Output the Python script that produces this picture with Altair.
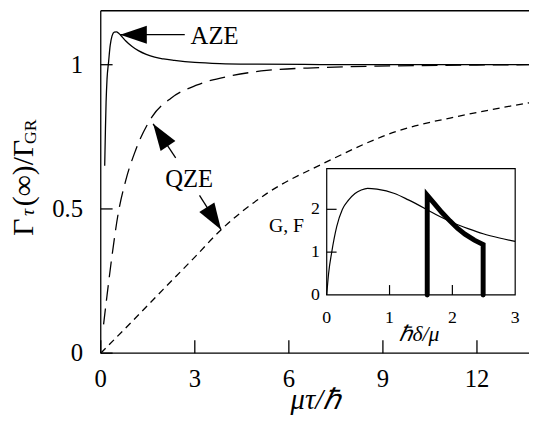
import altair as alt
import pandas as pd

# ---------------- data ----------------
# main panel: Gamma_tau(inf)/Gamma_GR versus mu*tau/hbar
aze_x = [0.126, 0.15, 0.17, 0.2, 0.25, 0.3, 0.36, 0.43, 0.5, 0.58, 0.67, 0.8, 1.0, 1.2,
         1.45, 1.72, 2.0, 2.35, 3.0, 3.8, 5.0, 6.5, 8.0, 10.0, 12.0, 13.66]
aze_y = [0.65, 0.78, 0.87, 0.95, 1.01, 1.066, 1.10, 1.113, 1.114, 1.108, 1.098, 1.082, 1.063,
         1.049, 1.036, 1.026, 1.02, 1.015, 1.008, 1.004, 1.002, 1.001, 1.0, 1.0, 1.0, 1.0]

long_x = [0.09, 0.2, 0.35, 0.55, 0.8, 1.1, 1.64, 2.24, 3.08, 4.13, 5.29, 7.0, 9.47, 12.0, 13.66]
long_y = [0.10, 0.2, 0.33, 0.48, 0.6, 0.7, 0.82, 0.884, 0.93, 0.961, 0.98, 0.99, 0.996, 0.999, 1.0]

short_x = [0.0, 1.0, 2.0, 3.0, 3.84, 5.29, 7.07, 9.47, 11.58, 13.66]
short_y = [0.0, 0.11, 0.222, 0.333, 0.428, 0.553, 0.656, 0.77, 0.825, 0.868]

main_xticks = [0, 3, 6, 9, 12]
main_yticks = [0, 0.5, 1]

# annotations (main coordinates)
arrow_tail_x = [2.68, 2.39, 3.15]
arrow_tail_y = [1.104, 0.677, 0.547]
arrow_tip_x = [0.62, 1.67, 3.84]
arrow_tip_y = [1.104, 0.795, 0.428]
arrow_angle = [270, 326, 147.5]

label_text = ["AZE", "QZE"]
label_x = [3.63, 2.82]
label_y = [1.071, 0.575]

# inset: G and F versus hbar*delta/mu
g_x = [0, 0.03, 0.08, 0.16, 0.25, 0.35, 0.45, 0.55, 0.65, 0.8, 1.08, 1.3, 1.6, 1.8,
       2.02, 2.25, 2.49, 2.75, 3.0]
g_y = [0, 0.5, 1.0, 1.6, 2.0, 2.22, 2.37, 2.45, 2.49, 2.47, 2.37, 2.22, 1.99, 1.83,
       1.68, 1.55, 1.43, 1.33, 1.25]

f_x = [1.6, 1.6, 1.71, 1.83, 1.96, 2.08, 2.2, 2.35, 2.49, 2.49]
f_y = [0, 2.33, 2.14, 1.93, 1.73, 1.56, 1.42, 1.28, 1.18, 0]

inset_xticks = [0, 1, 2, 3]
inset_yticks = [0, 1, 2]
inset_inner_xticks = [1, 2]
inset_inner_yticks = [1, 2]

# ---------------- layout ----------------
W, H = 434, 347
FONT = "Liberation Serif"
LW = 1.3

XS = alt.Scale(domain=[0, 13.66], nice=False, zero=False)
YS = alt.Scale(domain=[0, 1.187], nice=False, zero=False)


def one():
    return pd.DataFrame({"k": [0]})


def X(f):
    return alt.X(f, scale=XS, axis=None)


def Y(f):
    return alt.Y(f, scale=YS, axis=None)


aze_df = pd.DataFrame({"x": aze_x, "y": aze_y})
long_df = pd.DataFrame({"x": long_x, "y": long_y})
short_df = pd.DataFrame({"x": short_x, "y": short_y})

aze_line = alt.Chart(aze_df).mark_line(color="black", strokeWidth=LW,
                                       interpolate="monotone").encode(x=X("x:Q"), y=Y("y:Q"))
long_line = alt.Chart(long_df).mark_line(color="black", strokeWidth=LW, strokeDash=[16, 8],
                                         interpolate="monotone").encode(x=X("x:Q"), y=Y("y:Q"))
short_line = alt.Chart(short_df).mark_line(color="black", strokeWidth=LW, strokeDash=[7, 5],
                                           interpolate="monotone").encode(x=X("x:Q"), y=Y("y:Q"))

xtick_df = pd.DataFrame({"v": main_xticks})
ytick_df = pd.DataFrame({"v": main_yticks})
xt = alt.Chart(xtick_df).mark_rule(color="black", strokeWidth=LW).encode(
    x=X("v:Q"), y=alt.value(H), y2=alt.value(H - 13))
yt = alt.Chart(ytick_df).mark_rule(color="black", strokeWidth=LW).encode(
    y=Y("v:Q"), x=alt.value(0), x2=alt.value(12))
xlab = alt.Chart(xtick_df).mark_text(font=FONT, fontSize=25, color="black", align="center",
                                     baseline="top").encode(
    x=X("v:Q"), y=alt.value(H + 14), text=alt.Text("v:Q", format="~g"))
ylab = alt.Chart(ytick_df).mark_text(font=FONT, fontSize=25, color="black", align="right",
                                     baseline="middle").encode(
    y=Y("v:Q"), x=alt.value(-18), text=alt.Text("v:Q", format="~g"))

top_border = alt.Chart(one()).mark_rule(color="black", strokeWidth=LW).encode(
    x=alt.value(0), x2=alt.value(W), y=alt.value(0))
bottom_border = alt.Chart(one()).mark_rule(color="black", strokeWidth=LW).encode(
    x=alt.value(0), x2=alt.value(W), y=alt.value(H))
left_border = alt.Chart(one()).mark_rule(color="black", strokeWidth=LW).encode(
    x=alt.value(0), y=alt.value(0), y2=alt.value(H))

arrow_df = pd.DataFrame({"x0": arrow_tail_x, "y0": arrow_tail_y,
                         "x1": arrow_tip_x, "y1": arrow_tip_y, "ang": arrow_angle})
arrow_lines = alt.Chart(arrow_df).mark_rule(color="black", strokeWidth=LW).encode(
    x=X("x0:Q"), y=Y("y0:Q"), x2="x1:Q", y2="y1:Q")
arrow_heads = alt.Chart(arrow_df).mark_point(
    shape="M0,0L0.67,2L-0.67,2Z", size=729, filled=True, color="black",
    opacity=1, strokeWidth=0).encode(
    x=X("x1:Q"), y=Y("y1:Q"), angle=alt.Angle("ang:Q", scale=None))

labels_df = pd.DataFrame({"t": label_text, "x": label_x, "y": label_y})
labels = alt.Chart(labels_df).mark_text(font=FONT, fontSize=25, color="black",
                                        align="center", baseline="alphabetic").encode(
    x=X("x:Q"), y=Y("y:Q"), text="t:N")


def txt(s, x, y, size, style="normal", align="left", angle=0):
    return alt.Chart(one()).mark_text(text=s, font=FONT, fontSize=size, fontStyle=style,
                                      color="black", align=align, baseline="alphabetic",
                                      angle=angle).encode(x=alt.value(x), y=alt.value(y))


x_title = txt("μτ/ℏ", 218, 404, 29, style="italic", align="center")
y_t1 = txt("Γ", -68.7, 228, 30, angle=270)
y_t2 = txt("τ", -67.5, 208, 20, style="italic", angle=270)
y_t3 = txt("(∞)/Γ", -68.7, 198, 30, angle=270)
y_t4 = txt("GR", -65.3, 135, 18, angle=270)

main = alt.layer(aze_line, long_line, short_line, xt, yt, xlab, ylab,
                 top_border, bottom_border, left_border,
                 arrow_lines, arrow_heads, labels, x_title, y_t1, y_t2, y_t3, y_t4)

# ---------------- inset ----------------
IX = alt.Scale(domain=[0, 3], range=[229, 420], nice=False, zero=False)
IY = alt.Scale(domain=[0, 2.95], range=[288, 160], nice=False, zero=False)


def IXe(f):
    return alt.X(f, scale=IX, axis=None)


def IYe(f):
    return alt.Y(f, scale=IY, axis=None)


frame_df = pd.DataFrame({"x0": [0], "x1": [3], "y0": [0], "y1": [2.95]})
inset_frame = alt.Chart(frame_df).mark_rect(fill="white", stroke="black", strokeWidth=1.2).encode(
    x=IXe("x0:Q"), x2="x1:Q", y=IYe("y0:Q"), y2="y1:Q")

g_df = pd.DataFrame({"x": g_x, "y": g_y})
g_line = alt.Chart(g_df).mark_line(color="black", strokeWidth=1.2, interpolate="monotone").encode(
    x=IXe("x:Q"), y=IYe("y:Q"))

f_df = pd.DataFrame({"x": f_x, "y": f_y, "i": list(range(len(f_x)))})
f_line = alt.Chart(f_df).mark_line(color="black", strokeWidth=5, strokeCap="round",
                                   strokeJoin="miter").encode(
    x=IXe("x:Q"), y=IYe("y:Q"), order=alt.Order("i:Q"))

ixt = alt.Chart(pd.DataFrame({"v": inset_inner_xticks})).mark_rule(color="black", strokeWidth=1.2).encode(
    x=IXe("v:Q"), y=alt.value(288), y2=alt.value(278))
iyt = alt.Chart(pd.DataFrame({"v": inset_inner_yticks})).mark_rule(color="black", strokeWidth=1.2).encode(
    y=IYe("v:Q"), x=alt.value(229), x2=alt.value(239))
ixlab = alt.Chart(pd.DataFrame({"v": inset_xticks})).mark_text(
    font=FONT, fontSize=18, color="black", align="center", baseline="top").encode(
    x=IXe("v:Q"), y=alt.value(288 + 14), text=alt.Text("v:Q", format="d"))
iylab = alt.Chart(pd.DataFrame({"v": inset_yticks})).mark_text(
    font=FONT, fontSize=18, color="black", align="right", baseline="middle").encode(
    y=IYe("v:Q"), x=alt.value(229 - 7), text=alt.Text("v:Q", format="d"))

gf_title = txt("G, F", 206, 224, 20, align="right")
ix_title = txt("ℏδ/μ", 323, 335, 22, style="italic", align="center")

inset = alt.layer(inset_frame, g_line, f_line, ixt, iyt, ixlab, iylab, gf_title, ix_title)

chart = alt.layer(main, inset).resolve_scale(x="independent", y="independent").properties(
    width=W, height=H, autosize="none",
    padding={"left": 94, "top": 0, "right": 0, "bottom": 70},
    background="white",
).configure_view(stroke=None)

chart.save("out.html", embed_options={"renderer": "svg", "actions": False})
